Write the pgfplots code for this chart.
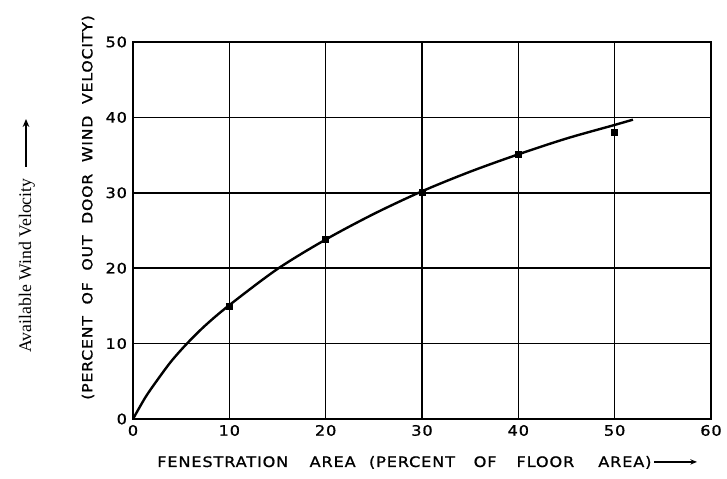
\documentclass[border=0pt]{standalone}
\usepackage{pgfplots}
\pgfplotsset{compat=1.18}
\usepackage{fontspec}
\setmainfont{Liberation Serif}
\newfontfamily\lettering[FakeStretch=1.12,LetterSpace=6,FakeBold=1]{DejaVu Sans}
\usetikzlibrary{calc,arrows.meta}
\begin{document}
\begin{tikzpicture}
\begin{axis}[
  scale only axis, width=433.5pt, height=282.75pt,
  xmin=0, xmax=60, ymin=0, ymax=50,
  xtick={0,10,20,30,40,50,60}, ytick={0,10,20,30,40,50},
  grid=major, major grid style={black, line width=1.2pt},
  axis line style={black, line width=1.6pt},
  major tick length=0pt,
  tick label style={font=\lettering\fontsize{10.8}{13}\selectfont},
  /pgf/number format/assume math mode=true,
  xticklabel style={yshift=-1pt},
  yticklabel style={xshift=-1pt},
]
\addplot[black, line width=1.8pt, smooth, tension=0.5] coordinates {
 (0,0) (1.3,2.9) (2.6,5.3) (4,7.7) (5.6,10) (7.5,12.4) (10,15.1) (15,19.9)
 (20,23.8) (25,27.2) (30,30.2) (35,32.8) (40,35.1) (45,37.2) (50,39.0) (51.9,39.7)
};
\addplot[only marks, mark=square*, mark size=2.2pt, black] coordinates {
 (10,15.0) (20,23.8) (30,30.1) (40,35.1) (50,38.0)
};
\end{axis}
\node[anchor=west, inner sep=0pt, font=\lettering\fontsize{10.8}{13}\selectfont]
  at ($(current axis.south west)+(18pt,-32.6pt)$)
  {FENESTRATION\hskip 16pt AREA\hskip 10pt(PERCENT\hskip 14pt OF\hskip 15pt FLOOR\hskip 18pt AREA)};
\draw[line width=1.1pt, -{Stealth[length=5pt,width=4pt]}]
  ($(current axis.south west)+(391pt,-32.2pt)$) -- ($(current axis.south west)+(423pt,-32.2pt)$);
\node[anchor=west, inner sep=0pt, rotate=90, font=\lettering\fontsize{10.5}{13}\selectfont]
  at ($(current axis.south west)+(-33.75pt,14.25pt)$)
  {(PERCENT\ \ OF\ \ OUT\ \ DOOR\ \ WIND\ \ VELOCITY)};
\node[anchor=west, inner sep=0pt, rotate=90, font=\fontsize{13.3}{16}\selectfont]
  at ($(current axis.south west)+(-79.5pt,49.5pt)$)
  {Available Wind Velocity};
\draw[line width=1.3pt, -{Stealth[length=6pt,width=5pt]}]
  ($(current axis.south west)+(-80.25pt,189pt)$) -- ($(current axis.south west)+(-80.25pt,225pt)$);
\pgfresetboundingbox
\path[use as bounding box] ($(current axis.south west)+(-99.75pt,-45pt)$) rectangle ($(current axis.north east)+(12pt,31.5pt)$);
\end{tikzpicture}
\end{document}
